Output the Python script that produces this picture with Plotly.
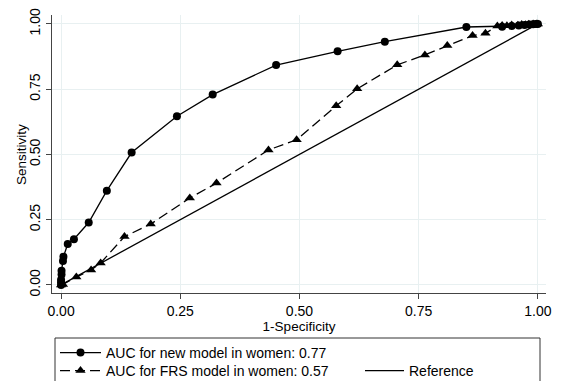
import plotly.graph_objects as go

# New model ROC points (1-specificity, sensitivity)
new_fpr = [0.0, 0.0, 0.0, 0.001, 0.001, 0.004, 0.005, 0.014, 0.027, 0.058, 0.096, 0.148,
           0.243, 0.318, 0.451, 0.580, 0.679, 0.850, 0.925, 0.945, 0.960, 0.972, 0.982,
           0.990, 0.996, 1.0]
new_tpr = [0.0, 0.01, 0.02, 0.04, 0.054, 0.092, 0.108, 0.157, 0.175, 0.239, 0.361, 0.507,
           0.646, 0.729, 0.842, 0.895, 0.932, 0.988, 0.989, 0.992, 0.994, 0.996, 0.998,
           0.999, 1.0, 1.0]

# FRS model ROC points
frs_fpr = [0.0, 0.004, 0.032, 0.063, 0.083, 0.133, 0.188, 0.270, 0.326, 0.435, 0.494,
           0.577, 0.621, 0.705, 0.763, 0.810, 0.863, 0.890, 0.915, 0.925, 0.935, 0.945,
           0.958, 0.966, 0.974, 0.981, 0.990, 0.997, 1.0]
frs_tpr = [0.0, 0.002, 0.030, 0.057, 0.084, 0.185, 0.233, 0.333, 0.390, 0.517, 0.556,
           0.686, 0.751, 0.843, 0.881, 0.917, 0.955, 0.964, 0.992, 0.994, 0.993, 0.996,
           0.995, 0.998, 0.997, 0.999, 1.0, 1.0, 1.0]

ref_x = [0.0, 1.0]
ref_y = [0.0, 1.0]

tick_vals = [0.0, 0.25, 0.5, 0.75, 1.0]
tick_text = ["0.00", "0.25", "0.50", "0.75", "1.00"]

labels = ["AUC for new model in women: 0.77",
          "AUC for FRS model in women: 0.57",
          "Reference"]
x_title = "1-Specificity"
y_title = "Sensitivity"

FONT = "Liberation Sans, Arial, Helvetica, sans-serif"

fig = go.Figure()
fig.add_trace(go.Scatter(
    x=new_fpr, y=new_tpr, mode="lines+markers", name=labels[0],
    line=dict(color="black", width=1.3),
    marker=dict(symbol="circle", size=8, color="black"),
    legend="legend", showlegend=True))
fig.add_trace(go.Scatter(
    x=frs_fpr, y=frs_tpr, mode="lines+markers", name=labels[1],
    line=dict(color="black", width=1.3, dash="10px,5px"),
    marker=dict(symbol="triangle-up", size=9, color="black"),
    legend="legend2", showlegend=True))
fig.add_trace(go.Scatter(
    x=ref_x, y=ref_y, mode="lines", name=labels[2],
    line=dict(color="black", width=1.3),
    legend="legend3", showlegend=True))

# the page body adds an 8px offset; work in screen pixels and convert
OFF = 8
W, H = 563, 381
L = 52 - OFF
T = 15 - OFF
B = H - (293 - OFF)
R = W - (546 - OFF)
pw, ph = W - L - R, H - T - B

def px(xs):
    return (xs - OFF - L) / pw

def py(ys):
    return (H - B - (ys - OFF)) / ph

axis_common = dict(
    showline=True, linecolor="#444", linewidth=1,
    ticks="outside", ticklen=5, tickcolor="#444", tickwidth=1,
    showgrid=True, gridcolor="#e8f0f1", gridwidth=1,
    zeroline=False, mirror=False, automargin=False,
    ticklabeloverflow="allow",
    tickfont=dict(family=FONT, size=14, color="black"),
    tickvals=tick_vals, ticktext=tick_text,
)

leg_common = dict(xanchor="left", yanchor="top", bgcolor="rgba(0,0,0,0)",
                  borderwidth=0, font=dict(family=FONT, size=14))

fig.update_layout(
    width=W, height=H,
    showlegend=True,
    margin=dict(l=L, r=R, t=T, b=B, pad=0, autoexpand=False),
    paper_bgcolor="white", plot_bgcolor="white",
    font=dict(family=FONT, size=14, color="black"),
    xaxis=dict(range=[-0.019, 1.017], title=dict(text=x_title,
               font=dict(family=FONT, size=13.5), standoff=2), **axis_common),
    yaxis=dict(range=[-0.031, 1.034], tickangle=-90, **axis_common),
    legend=dict(x=px(55), y=py(337), itemwidth=41, **leg_common),
    legend2=dict(x=px(55), y=py(355), itemwidth=41, **leg_common),
    legend3=dict(x=px(360), y=py(355), itemwidth=39, **leg_common),
    annotations=[dict(text=y_title, xref="paper", yref="paper",
                      x=px(21), y=py(155), xanchor="center", yanchor="middle",
                      textangle=-90, showarrow=False,
                      font=dict(family=FONT, size=13.5, color="black"))],
    shapes=[dict(type="rect", xref="paper", yref="paper",
                 x0=px(55), x1=px(540), y0=py(338), y1=py(400),
                 line=dict(color="#333", width=1), fillcolor="rgba(0,0,0,0)")],
)

fig.write_html("out.html")
